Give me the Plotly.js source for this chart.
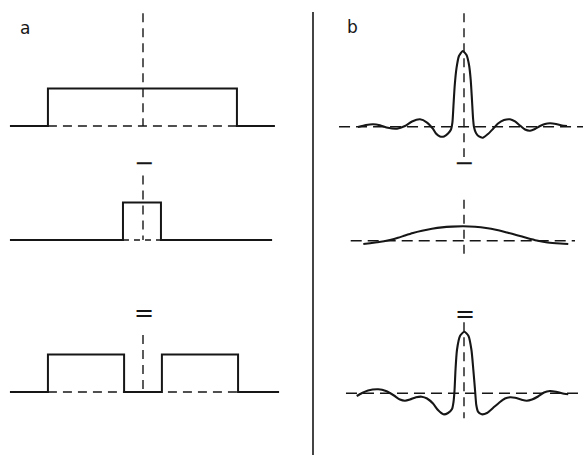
<!DOCTYPE html>
<html>
<head>
<meta charset="utf-8">
<script src="https://cdn.plot.ly/plotly-3.0.1.min.js"></script>
<style>html,body{margin:0;padding:0;background:#fff;}#chart{width:583px;height:455px;}</style>
</head>
<body>
<div id="chart"></div>
<script>
// ---------- DATA (arbitrary units) ----------
// Panel a: rectangle functions (x: width units, y: height units)
const aTopX = [-7.04, -5.03, -5.03, 4.97, 4.97, 6.98];
const aTopY = [0, 0, 1, 1, 0, 0];
const aMidX = [-7.04, -1.06, -1.06, 0.95, 0.95, 6.83];
const aMidY = [0, 0, 1, 1, 0, 0];
const aBotX = [-7.04, -5.03, -5.03, -1.0, -1.0, 1.0, 1.0, 5.03, 5.03, 7.2];
const aBotY = [0, 0, 1, 1, 0, 0, 1, 1, 0, 0];
// dashed reference lines, panel a
const aTopBaseX = [-5.03, 4.97];
const aMidBaseX = [-1.06, 0.95];
const aBotBaseX = [-5.03, 5.03];
const aTopAxisY = [3.01, 0];
const aMidAxisY = [1.72, 0];
const aBotAxisY = [1.52, 0];

// Panel b: transforms (x: frequency units, y: amplitude, peak of top = 1)
const bTopX = [-10.10, -9.33, -8.67, -8.00, -7.24, -6.38, -5.62, -4.95, -4.19, -3.52, -2.95, -2.67, -2.29, -1.90, -1.52, -1.24, -1.10, -1.00, -0.88, -0.71, -0.48, -0.12, 0.24, 0.48, 0.64, 0.76, 0.86, 0.95, 1.14, 1.43, 1.81, 2.29, 2.76, 3.24, 3.81, 4.38, 4.86, 5.33, 5.81, 6.29, 6.76, 7.24, 7.71, 8.19, 8.76, 9.33, 9.81];
const bTopY = [-0.004, 0.022, 0.032, 0.019, -0.015, -0.026, 0.009, 0.069, 0.098, 0.055, -0.030, -0.090, -0.129, -0.129, -0.090, -0.037, 0.061, 0.286, 0.551, 0.776, 0.934, 1.0, 0.947, 0.815, 0.617, 0.353, 0.115, -0.004, -0.083, -0.129, -0.145, -0.096, -0.030, 0.042, 0.088, 0.098, 0.069, 0.016, -0.037, -0.053, -0.030, 0.009, 0.036, 0.045, 0.036, 0.016, 0.009];
const bMidX = [-9.59, -8.95, -8.29, -7.62, -6.95, -6.29, -5.62, -4.86, -4.00, -3.05, -2.10, -1.14, -0.07, 1.05, 2.10, 3.14, 4.10, 5.05, 6.00, 6.92, 7.81, 8.76, 9.93];
const bMidY = [-0.044, -0.033, -0.020, -0.007, 0.012, 0.038, 0.069, 0.102, 0.131, 0.157, 0.176, 0.186, 0.190, 0.184, 0.168, 0.141, 0.108, 0.073, 0.036, 0.003, -0.021, -0.034, -0.044];
const bBotX = [-10.22, -9.71, -9.14, -8.16, -7.43, -6.67, -6.10, -5.62, -5.14, -4.57, -4.03, -3.52, -2.95, -2.48, -1.97, -1.52, -1.14, -1.00, -0.90, -0.81, -0.67, -0.38, 0.03, 0.43, 0.71, 0.89, 1.05, 1.17, 1.33, 1.69, 2.19, 2.76, 3.43, 3.90, 4.38, 4.86, 5.43, 5.97, 6.48, 7.05, 7.62, 8.19, 8.76, 9.33, 9.93];
const bBotY = [-0.036, 0.004, 0.037, 0.053, 0.030, -0.029, -0.082, -0.098, -0.082, -0.053, -0.045, -0.069, -0.135, -0.221, -0.277, -0.260, -0.208, -0.115, 0.044, 0.308, 0.572, 0.757, 0.814, 0.757, 0.572, 0.308, 0.044, -0.155, -0.241, -0.277, -0.260, -0.194, -0.115, -0.069, -0.053, -0.059, -0.082, -0.098, -0.082, -0.042, 0.011, 0.030, 0.020, 0.001, -0.013];
// dashed reference lines, panel b
const bTopBaseX = [-11.9, 11.4];
const bMidBaseX = [-10.79, 10.57];
const bBotBaseX = [-11.24, 11.4];
const bTopAxisY = [1.50, -0.40];
const bMidAxisY = [0.54, -0.23];
const bBotAxisY = [0.94, -0.33];

// labels
const panelLabels = ['a', 'b'];
const opMinus = '\u2212';
const opEquals = '=';

// ---------- LAYOUT HELPERS ----------
const W = 583, H = 455;
const INK = '#161616';
function panel(cx, by, sx, sy, x0, x1, y0, y1) {
  return {
    xd: [x0 / W, x1 / W], xr: [(x0 - cx) / sx, (x1 - cx) / sx],
    yd: [1 - y1 / H, 1 - y0 / H], yr: [(by - y1) / sy, (by - y0) / sy]
  };
}
const SXA = 18.9, SYA = 37.5, SXB = 10.5, SYB = 75.7;
const P = [
  panel(143, 126, SXA, SYA, 0, 313, 0, 160),
  panel(143, 240, SXA, SYA, 0, 313, 160, 290),
  panel(143, 392, SXA, SYA, 0, 313, 290, 455),
  panel(464, 126.7, SXB, SYB, 313, 583, 0, 160),
  panel(464, 240.7, SXB, SYB, 313, 583, 160, 290),
  panel(464, 393.3, SXB, SYB, 313, 583, 290, 455)
];

const layout = {
  width: W, height: H, margin: {l: 0, r: 0, t: 0, b: 0},
  paper_bgcolor: '#fff', plot_bgcolor: 'rgba(0,0,0,0)',
  showlegend: false, annotations: [], shapes: []
};
P.forEach((p, i) => {
  const k = i === 0 ? '' : String(i + 1);
  layout['xaxis' + k] = {domain: p.xd, range: p.xr, visible: false, fixedrange: true, anchor: 'y' + k};
  layout['yaxis' + k] = {domain: p.yd, range: p.yr, visible: false, fixedrange: true, anchor: 'x' + k};
});

const traces = [];
function ax(i) { const k = i === 0 ? '' : String(i + 1); return {xaxis: 'x' + k, yaxis: 'y' + k}; }
function dashed(i, x, y, dash) {
  traces.push(Object.assign({x: x, y: y, mode: 'lines', hoverinfo: 'skip',
    line: {color: INK, width: 1.4, dash: dash || '9px,6px'}}, ax(i)));
}
function solid(i, x, y, smooth) {
  const ln = {color: INK, width: 2};
  if (smooth) { ln.shape = 'spline'; ln.smoothing = 0.6; ln.width = 2.1; }
  traces.push(Object.assign({x: x, y: y, mode: 'lines', hoverinfo: 'skip', line: ln}, ax(i)));
}

// panel a
dashed(0, aTopBaseX, [0, 0]); dashed(0, [0, 0], aTopAxisY);
dashed(1, aMidBaseX, [0, 0], '6px,5px'); dashed(1, [0, 0], aMidAxisY);
dashed(2, aBotBaseX, [0, 0]); dashed(2, [0, 0], aBotAxisY);
solid(0, aTopX, aTopY); solid(1, aMidX, aMidY); solid(2, aBotX, aBotY);
// panel b
dashed(3, bTopBaseX, [0, 0], '11px,6px'); dashed(3, [0, 0], bTopAxisY);
dashed(4, bMidBaseX, [0, 0], '11px,6px'); dashed(4, [0, 0], bMidAxisY);
dashed(5, bBotBaseX, [0, 0], '11px,6px'); dashed(5, [0, 0], bBotAxisY);
solid(3, bTopX, bTopY, true); solid(4, bMidX, bMidY, true); solid(5, bBotX, bBotY, true);

// separator
layout.shapes.push({type: 'line', xref: 'paper', yref: 'paper', x0: 313 / W, x1: 313 / W, y0: 1 - 12 / H, y1: 0,
  line: {color: INK, width: 1.6}});

// text
const FONT = 'DejaVu Sans';
function note(text, px, py, size) {
  layout.annotations.push({text: text, xref: 'paper', yref: 'paper', x: px / W, y: 1 - py / H,
    xanchor: 'center', yanchor: 'middle', showarrow: false,
    font: {family: FONT, size: size, color: INK}});
}
note(panelLabels[0], 24.5, 28, 17);
note(panelLabels[1], 352.5, 27, 17);
note(opMinus, 143.5, 163, 24);
note(opMinus, 463.7, 163, 24);
note(opEquals, 144, 313, 24);
note(opEquals, 465, 314, 24);

Plotly.newPlot('chart', traces, layout, {staticPlot: true, displayModeBar: false});
</script>
</body>
</html>
